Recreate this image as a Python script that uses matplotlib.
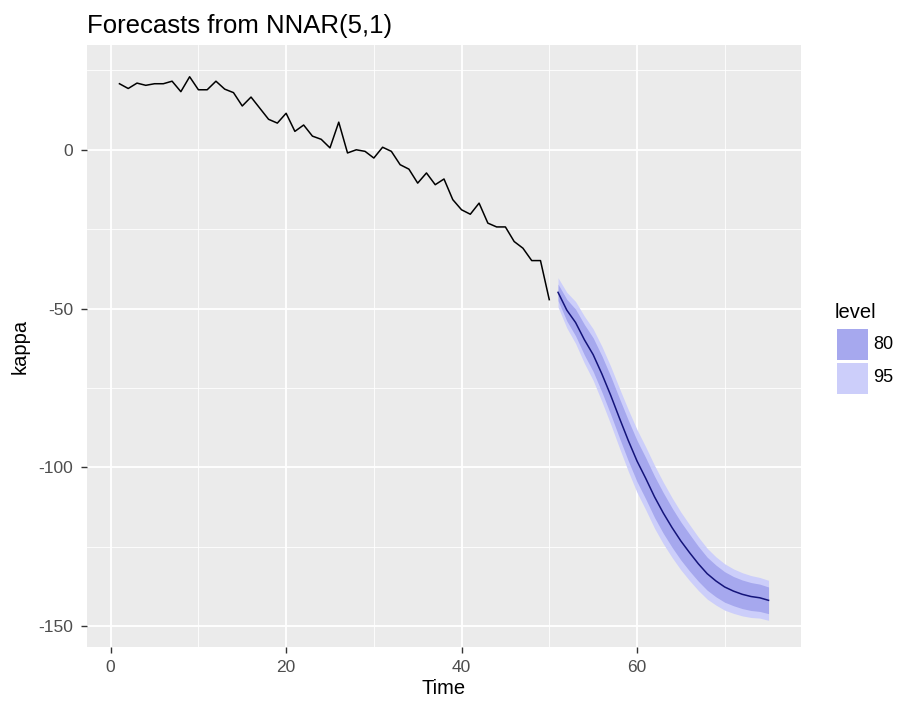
import matplotlib
matplotlib.use("Agg")
import matplotlib.pyplot as plt
from matplotlib.patches import Rectangle
import numpy as np

plt.rcParams['font.family'] = ['Liberation Sans', 'DejaVu Sans']
plt.rcParams['axes.unicode_minus'] = False

# ---- data ----
hist_time = list(range(1, 51))
hist_kappa = [20.8, 19.3, 21.0, 20.3, 20.8, 20.8, 21.6, 18.3, 23.0, 18.9,
              18.9, 21.6, 19.1, 18.0, 13.8, 16.6, 13.1, 9.6, 8.4, 11.5,
              5.8, 7.8, 4.3, 3.3, 0.6, 8.7, -1.0, 0.0, -0.5, -2.6,
              0.8, -0.5, -4.7, -6.1, -10.5, -7.3, -11.0, -9.2, -15.7, -18.9,
              -20.3, -16.8, -23.1, -24.3, -24.3, -28.9, -31.0, -34.9, -34.9, -47.2]

fc_time = list(range(51, 76))
fc_mean = [-44.9, -50.5, -54.4, -59.8, -64.5, -70.6, -77.3, -84.5, -91.5, -98.0,
           -103.5, -109.3, -114.4, -119.0, -123.2, -126.9, -130.4, -133.5, -135.8, -137.7,
           -139.0, -140.0, -140.7, -141.1, -141.9]
fc_half80 = [2.6, 3.4, 4.2, 4.8, 5.3, 5.7, 6.0, 6.2, 6.4, 6.5,
             6.5, 6.5, 6.4, 6.2, 6.0, 5.8, 5.5, 5.2, 5.0, 4.8,
             4.6, 4.5, 4.4, 4.3, 4.2]
fc_half95 = [4.6, 5.6, 6.6, 7.4, 8.1, 8.7, 9.1, 9.4, 9.7, 9.9,
             9.9, 9.9, 9.7, 9.4, 9.1, 8.8, 8.4, 8.0, 7.6, 7.3,
             7.0, 6.8, 6.6, 6.4, 6.3]
levels = ["80", "95"]

fc_mean = np.array(fc_mean)
lo80 = fc_mean - np.array(fc_half80)
hi80 = fc_mean + np.array(fc_half80)
lo95 = fc_mean - np.array(fc_half95)
hi95 = fc_mean + np.array(fc_half95)

col80 = "#A6A8EE"
col95 = "#CCCEFA"

fig = plt.figure(figsize=(8.97, 7.02), dpi=100)
fig.patch.set_facecolor("white")
ax = fig.add_axes([87/897, 1-647/702, (801-87)/897, (647-45)/702])
ax.set_facecolor("#EBEBEB")

ax.fill_between(fc_time, lo95, hi95, color=col95, lw=0, zorder=2)
ax.fill_between(fc_time, lo80, hi80, color=col80, lw=0, zorder=3)
ax.plot(hist_time, hist_kappa, color="black", lw=1.1, zorder=4)
ax.plot(fc_time, fc_mean, color="#14147A", lw=1.1, zorder=5)

ax.set_xlim(-2.7, 78.7)
ax.set_ylim(-156.6, 33.0)
ax.set_xticks([0, 20, 40, 60])
ax.set_xticks([10, 30, 50, 70], minor=True)
ax.set_yticks([0, -50, -100, -150])
ax.set_yticks([25, -25, -75, -125], minor=True)
ax.grid(which="major", color="white", lw=1.3, zorder=0)
ax.grid(which="minor", color="white", lw=0.6, zorder=0)
ax.set_axisbelow(True)
for s in ax.spines.values():
    s.set_visible(False)
ax.tick_params(which="major", length=4, width=1, color="#333333",
               labelcolor="#4D4D4D", labelsize=12.5)
ax.tick_params(axis="x", which="major", pad=5)
ax.tick_params(axis="y", which="major", pad=6)
ax.tick_params(which="minor", length=0)

ax.set_xlabel("Time", fontsize=14.5, labelpad=3)
ax.set_ylabel("kappa", fontsize=14.5, labelpad=6)
ax.set_title("Forecasts from NNAR(5,1)", fontsize=18.5, loc="left", pad=9,
             x=0.0)

# legend (manual, ggplot style)
fig.text(835/897, 1-313/702, "level", fontsize=14.5, va="center", ha="left")
key_w, key_h = 31/897, 31/702
for i, (lab, col) in enumerate(zip(levels, [col80, col95])):
    y0 = 1 - (329 + 33.5*i + 31)/702
    fig.patches.append(Rectangle((837/897, y0), key_w, key_h,
                                 transform=fig.transFigure, color=col,
                                 ec="white", lw=0))
    fig.text(873/897, y0 + key_h/2, lab, fontsize=13, va="center",
             ha="left", color="black")

fig.savefig("out.png", dpi=100)
